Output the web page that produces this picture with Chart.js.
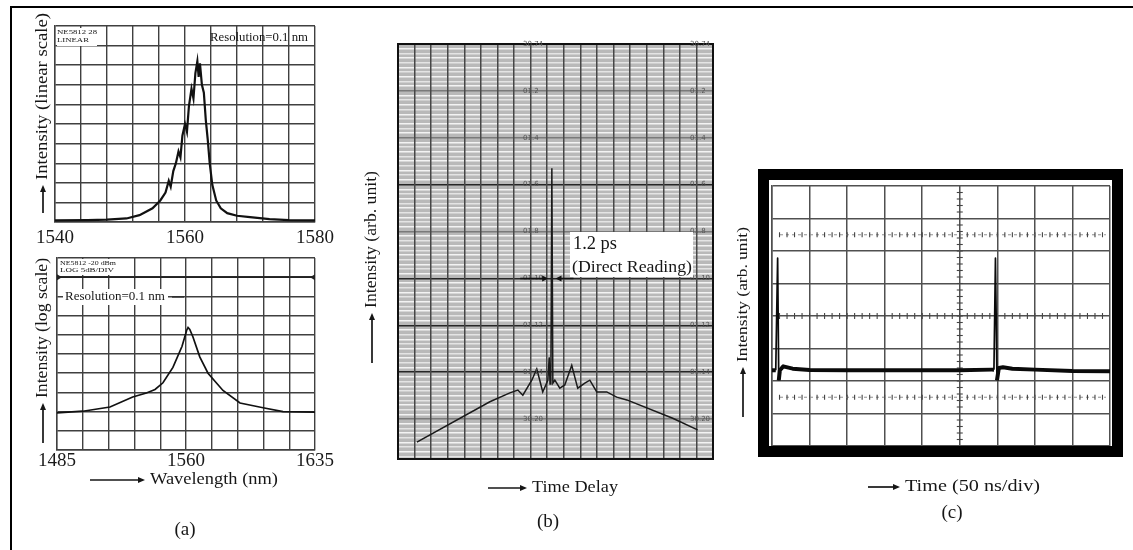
<!DOCTYPE html>
<html>
<head>
<meta charset="utf-8">
<script src="https://cdn.jsdelivr.net/npm/chart.js@4.4.0/dist/chart.umd.min.js"></script>
<style>
  html, body { margin: 0; padding: 0; background: #fff; }
  #fig { position: relative; width: 1133px; height: 550px; overflow: hidden; background: #fff; }
  #frame { position: absolute; left: 10px; top: 6px; width: 1140px; height: 560px;
           border-left: 2px solid #000; border-top: 2px solid #000; }
  canvas { position: absolute; }
</style>
</head>
<body>
<div id="fig">
  <div id="frame"></div>
  <canvas id="aTop" width="340" height="250" style="left:0;top:0"></canvas>
  <canvas id="aBot" width="340" height="300" style="left:0;top:250px"></canvas>
  <canvas id="bAc"  width="400" height="550" style="left:340px;top:0"></canvas>
  <canvas id="cScope" width="413" height="550" style="left:720px;top:0"></canvas>
</div>
<script>
// (a) upper: optical spectrum on a linear intensity scale (grid divisions)
const specLinWl = [1540, 1545, 1548, 1551, 1553, 1555, 1556.2, 1557, 1557.5, 1557.8, 1558.2, 1558.6,
  1559, 1559.3, 1559.6, 1560, 1560.3, 1560.6, 1561, 1561.3, 1561.6, 1561.9, 1562.1, 1562.3, 1562.6,
  1562.9, 1563.2, 1563.5, 1563.8, 1564.2, 1564.8, 1565.5, 1566.5, 1568, 1570, 1573, 1576, 1580];
const specLinI = [0.08, 0.1, 0.12, 0.18, 0.35, 0.7, 1.1, 1.5, 2.1, 1.8, 2.6, 3.0,
  3.6, 3.3, 4.4, 5.0, 4.6, 5.9, 6.8, 6.3, 7.6, 8.2, 7.4, 8.1, 7.0,
  6.6, 5.2, 4.2, 3.0, 1.9, 1.1, 0.7, 0.45, 0.32, 0.25, 0.15, 0.1, 0.08];
const linWlTicks = [1540, 1544, 1548, 1552, 1556, 1560, 1564, 1568, 1572, 1576, 1580];
const linWlLabels = [1540, 1560, 1580];
const linLevelTicks = [0, 1, 2, 3, 4, 5, 6, 7, 8, 9, 10];

// (a) lower: the same spectrum on a log scale (dBm, 5 dB/div)
const specLogWl = [1485, 1500, 1515.8, 1529, 1537, 1542, 1546.6, 1552.4, 1557.7, 1560.4, 1561.2,
  1562.2, 1564, 1568, 1572.8, 1581.5, 1591.4, 1604.8, 1616.4, 1635];
const specLogDbm = [-60.35, -59.9, -58.8, -56.2, -55.15, -54.25, -52.5, -48.5, -43, -38.8, -38.1,
  -38.6, -40.5, -45.75, -50, -54.5, -57.75, -59, -60, -60.15];
const logWlTicks = [1485, 1500, 1515, 1530, 1545, 1560, 1575, 1590, 1605, 1620, 1635];
const logWlLabels = [1485, 1560, 1635];
const logDbmTicks = [-70, -65, -60, -55, -50, -45, -40, -35, -30, -25, -20];
const refLevelDbm = -25;

// (b) autocorrelation trace (time-delay divisions, intensity divisions)
const acDelay = [1.14, 5.54, 6.75, 7.23, 7.53, 8.07, 8.37, 8.55, 8.73, 9.04, 9.12, 9.17, 9.22, 9.28,
  9.34, 9.46, 9.76, 10.06, 10.48, 10.66, 10.84, 11.27, 11.57, 11.99, 12.59, 13.19, 13.80, 16.57, 18.07];
const acLevel = [0.36, 1.22, 1.41, 1.47, 1.36, 1.68, 1.92, 1.68, 1.43, 1.68, 2.17, 1.60, 1.62, 6.20,
  1.62, 1.68, 1.51, 1.58, 2.00, 1.75, 1.51, 1.62, 1.68, 1.43, 1.43, 1.32, 1.26, 0.87, 0.62];
const acDelayTicks = [0, 1, 2, 3, 4, 5, 6, 7, 8, 9, 10, 11, 12, 13, 14, 15, 16, 17, 18, 19];
const acMajorLevels = [0.85, 1.85, 2.85, 3.85, 4.85, 5.85, 6.85, 7.85, 8.85];
const acStrongLevels = [1.85, 2.85, 3.85, 5.85];
const acReadouts = ['30.74', '01.2', '01.4', '01.6', '01.8', '01.10', '01.12', '01.14', '30.20'];
const acPulseCenter = 9.28;
const acHalfWidth = 0.22;
const acWidthLevel = 3.85;

// (c) oscilloscope pulse train (time divisions, vertical divisions)
const scopeTime = [0.0, 0.10, 0.15, 0.18, 0.21, 0.30, 0.55, 1.0, 2.0, 3.0, 4.0, 5.0, 5.85, 5.91,
  5.95, 5.99, 6.04, 6.15, 6.4, 7.0, 8.0, 9.0];
const scopeLevel = [2.33, 2.33, 5.78, 2.02, 2.33, 2.45, 2.38, 2.34, 2.33, 2.33, 2.33, 2.33, 2.35, 2.35,
  5.78, 2.02, 2.40, 2.42, 2.38, 2.35, 2.31, 2.30];
const scopeTimeTicks = [0, 1, 2, 3, 4, 5, 6, 7, 8, 9];
const scopeLevelTicks = [0, 1, 2, 3, 4, 5, 6, 7, 8];
const scopeCenter = { x: 5, y: 4 };
const scopeMarkerLevels = [1.5, 6.5];

const FONT = 'Liberation Serif';
const INK = '#161616';

function fitText(ctx, text, x, y, width, size, align) {
  ctx.save();
  ctx.font = size + 'px "' + FONT + '"';
  ctx.textBaseline = 'middle';
  ctx.textAlign = 'left';
  ctx.fillStyle = INK;
  const w = ctx.measureText(text).width;
  const s = width ? width / w : 1;
  const x0 = align === 'center' ? x - (w * s) / 2 : x;
  ctx.translate(x0, y);
  ctx.scale(s, 1);
  ctx.fillText(text, 0, 0);
  ctx.restore();
}

function arrowLabel(ctx, x, y, len, text, size, width, vertical) {
  ctx.save();
  ctx.translate(x, y);
  if (vertical) ctx.rotate(-Math.PI / 2);
  ctx.strokeStyle = INK;
  ctx.fillStyle = INK;
  ctx.lineWidth = 1.7;
  ctx.beginPath(); ctx.moveTo(0, 0); ctx.lineTo(len - 5, 0); ctx.stroke();
  ctx.beginPath(); ctx.moveTo(len, 0); ctx.lineTo(len - 7, -3); ctx.lineTo(len - 7, 3); ctx.closePath(); ctx.fill();
  fitText(ctx, text, len + 5, 0, width, size);
  ctx.restore();
}

function setTicks(list) { return s => { s.ticks = list.map(v => ({ value: v })); }; }

const gridA = { color: '#404040', lineWidth: 1.4, drawTicks: false };
const borderA = { color: '#404040', width: 1.4 };
const common = {
  responsive: false, animation: false, events: [],
  plugins: { legend: { display: false }, tooltip: { enabled: false } },
  elements: { point: { radius: 0 }, line: { tension: 0 } }
};

// ---------- (a) upper: linear scale ----------
new Chart(document.getElementById('aTop'), {
  type: 'line',
  data: { datasets: [{ data: specLinWl.map((w, i) => ({ x: w, y: specLinI[i] })),
    borderColor: '#111', borderWidth: 2.2 }] },
  options: Object.assign({}, common, {
    layout: { padding: { left: 55, right: 25, top: 26, bottom: 0 } },
    scales: {
      x: { type: 'linear', min: 1540, max: 1580, afterBuildTicks: setTicks(linWlTicks),
        afterFit: s => { s.height = 28; }, grid: gridA, border: borderA,
        ticks: { autoSkip: false, maxRotation: 0, padding: 5, color: '#1a1a1a',
          font: { family: FONT, size: 19 },
          callback: v => linWlLabels.includes(v) ? String(v) : '' } },
      y: { min: 0, max: 10, afterBuildTicks: setTicks(linLevelTicks),
        afterFit: s => { s.width = 0; }, grid: gridA, border: borderA, ticks: { display: false } }
    }
  }),
  plugins: [{
    id: 'aTopText',
    afterDraw(chart) {
      const ctx = chart.ctx, a = chart.chartArea;
      ctx.save();
      ctx.fillStyle = '#fff';
      ctx.fillRect(a.left + 2, a.top + 2, 40, 18);
      ctx.restore();
      fitText(ctx, 'NE5812 28', a.left + 2, a.top + 6, 40, 7);
      fitText(ctx, 'LINEAR', a.left + 2, a.top + 14, 32, 7);
      fitText(ctx, 'Resolution=0.1 nm', 210, 38, 98, 12);
      arrowLabel(ctx, 43, 213, 28, 'Intensity (linear scale)', 16, 167, true);
    }
  }]
});

// ---------- (a) lower: log scale ----------
new Chart(document.getElementById('aBot'), {
  type: 'line',
  data: { datasets: [{ data: specLogWl.map((w, i) => ({ x: w, y: specLogDbm[i] })),
    borderColor: '#111', borderWidth: 1.7 }] },
  options: Object.assign({}, common, {
    layout: { padding: { left: 57, right: 25, top: 8, bottom: 0 } },
    scales: {
      x: { type: 'linear', min: 1485, max: 1635, afterBuildTicks: setTicks(logWlTicks),
        afterFit: s => { s.height = 100; }, grid: gridA, border: borderA,
        ticks: { autoSkip: false, maxRotation: 0, padding: 0, color: '#1a1a1a',
          font: { family: FONT, size: 19 },
          callback: v => logWlLabels.includes(v) ? String(v) : '' } },
      y: { min: -70, max: -20, afterBuildTicks: setTicks(logDbmTicks),
        afterFit: s => { s.width = 0; }, grid: gridA, border: borderA, ticks: { display: false } }
    }
  }),
  plugins: [{
    id: 'aBotText',
    afterDraw(chart) {
      const ctx = chart.ctx, a = chart.chartArea;
      const ry = chart.scales.y.getPixelForValue(refLevelDbm);
      ctx.save();
      ctx.strokeStyle = '#222'; ctx.lineWidth = 1.8;
      ctx.beginPath(); ctx.moveTo(a.left, ry); ctx.lineTo(a.right, ry); ctx.stroke();
      ctx.fillStyle = '#222';
      ctx.beginPath(); ctx.moveTo(a.left + 5, ry); ctx.lineTo(a.left, ry - 3); ctx.lineTo(a.left, ry + 3); ctx.fill();
      ctx.beginPath(); ctx.moveTo(a.right - 5, ry); ctx.lineTo(a.right, ry - 3); ctx.lineTo(a.right, ry + 3); ctx.fill();
      ctx.fillStyle = '#fff';
      ctx.fillRect(a.left + 2, a.top + 1, 58, 16);
      ctx.fillRect(63, 39, 105, 16);
      ctx.strokeStyle = '#222'; ctx.lineWidth = 1.2;
      ctx.beginPath(); ctx.moveTo(172, 47); ctx.lineTo(184, 47); ctx.stroke();
      ctx.restore();
      fitText(ctx, 'NE5812 -20 dBm', a.left + 3, a.top + 5, 56, 7);
      fitText(ctx, 'LOG 5dB/DIV', a.left + 3, a.top + 12, 54, 7);
      fitText(ctx, 'Resolution=0.1 nm', 65, 47, 100, 13);
      arrowLabel(ctx, 43, 193, 40, 'Intensity (log scale)', 16, 140, true);
      arrowLabel(ctx, 90, 230, 55, 'Wavelength (nm)', 17, 128, false);
      fitText(ctx, '(a)', 185, 280, 0, 19, 'center');
    }
  }]
});

// ---------- (b) autocorrelation ----------
const acMinorTicks = [];
for (let i = 0; i <= 88; i++) acMinorTicks.push(+(0.05 + 0.1 * i).toFixed(2));
const near = (v, list) => list.some(m => Math.abs(m - v) < 1e-6);

new Chart(document.getElementById('bAc'), {
  type: 'line',
  data: { datasets: [{ data: acDelay.map((d, i) => ({ x: d, y: acLevel[i] })),
    borderColor: '#1a1a1a', borderWidth: 1.5 }] },
  options: Object.assign({}, common, {
    layout: { padding: { left: 58, right: 27, top: 44, bottom: 0 } },
    scales: {
      x: { type: 'linear', min: 0, max: 19, afterBuildTicks: setTicks(acDelayTicks),
        afterFit: s => { s.height = 91; },
        grid: { z: -1, color: '#474747', lineWidth: 1.5, drawTicks: false },
        border: { display: false }, ticks: { display: false } },
      y: { min: 0, max: 8.85, afterBuildTicks: setTicks(acMinorTicks),
        afterFit: s => { s.width = 0; },
        grid: { z: -2, drawTicks: false,
          color: c => near(c.tick.value, acStrongLevels) ? '#262626'
            : near(c.tick.value, acMajorLevels) ? '#7a7a7a' : (c.index % 2 ? '#f3f3f3' : '#e4e4e4'),
          lineWidth: c => near(c.tick.value, acMajorLevels) ? 1.5 : 1.6 },
        border: { display: false }, ticks: { display: false } }
    }
  }),
  plugins: [{
    id: 'bBack',
    beforeDraw(chart) {
      const ctx = chart.ctx, a = chart.chartArea;
      ctx.save(); ctx.fillStyle = '#b9b9b9';
      ctx.fillRect(a.left, a.top, a.right - a.left, a.bottom - a.top);
      ctx.restore();
    },
    afterDraw(chart) {
      const ctx = chart.ctx, a = chart.chartArea, xs = chart.scales.x, ys = chart.scales.y;
      ctx.save();
      ctx.strokeStyle = '#111'; ctx.lineWidth = 2;
      ctx.strokeRect(a.left, a.top, a.right - a.left, a.bottom - a.top);
      // instrument readouts along the major lines
      ctx.font = '7px "DejaVu Sans"'; ctx.fillStyle = '#555'; ctx.textBaseline = 'middle';
      acMajorLevels.forEach((lv, i) => {
        const py = ys.getPixelForValue(lv);
        const t = acReadouts[acReadouts.length - 1 - i];
        ctx.fillText(t, 183, py);
        ctx.fillText(t, 350, py);
      });
      // pulse-width markers
      const wy = ys.getPixelForValue(acWidthLevel);
      const xl = xs.getPixelForValue(acPulseCenter - acHalfWidth);
      const xr = xs.getPixelForValue(acPulseCenter + acHalfWidth);
      ctx.strokeStyle = '#111'; ctx.fillStyle = '#111'; ctx.lineWidth = 1.5;
      ctx.beginPath(); ctx.moveTo(xl - 28, wy); ctx.lineTo(xl - 4, wy); ctx.stroke();
      ctx.beginPath(); ctx.moveTo(xl, wy); ctx.lineTo(xl - 6, wy - 3); ctx.lineTo(xl - 6, wy + 3); ctx.fill();
      ctx.beginPath(); ctx.moveTo(xr + 18, wy); ctx.lineTo(xr + 4, wy); ctx.stroke();
      ctx.beginPath(); ctx.moveTo(xr, wy); ctx.lineTo(xr + 6, wy - 3); ctx.lineTo(xr + 6, wy + 3); ctx.fill();
      // label box
      ctx.fillStyle = '#fff';
      ctx.fillRect(230, 232, 123, 45);
      ctx.restore();
      fitText(ctx, '1.2 ps', 233, 244, 44, 19);
      fitText(ctx, '(Direct Reading)', 232, 268, 120, 17);
      arrowLabel(ctx, 32, 363, 50, 'Intensity (arb. unit)', 16, 137, true);
      arrowLabel(ctx, 148, 488, 39, 'Time Delay', 17, 86, false);
      fitText(ctx, '(b)', 208, 522, 0, 19, 'center');
    }
  }]
});

// ---------- (c) oscilloscope ----------
new Chart(document.getElementById('cScope'), {
  type: 'line',
  data: { datasets: [{ data: scopeTime.map((t, i) => ({ x: t, y: scopeLevel[i] })),
    borderColor: '#0a0a0a', borderWidth: 4, borderJoinStyle: 'round',
    segment: { borderWidth: c => Math.abs(c.p1.parsed.y - c.p0.parsed.y) > 1 ? 1.7 : 4 } }] },
  options: Object.assign({}, common, {
    layout: { padding: { left: 52, right: 23, top: 186, bottom: 0 } },
    scales: {
      x: { type: 'linear', min: 0, max: 9, afterBuildTicks: setTicks(scopeTimeTicks),
        afterFit: s => { s.height = 104; },
        grid: { color: '#505050', lineWidth: 1.5, drawTicks: false },
        border: { color: '#505050', width: 1.5 }, ticks: { display: false } },
      y: { min: 0, max: 8, afterBuildTicks: setTicks(scopeLevelTicks),
        afterFit: s => { s.width = 0; },
        grid: { color: '#505050', lineWidth: 1.5, drawTicks: false },
        border: { color: '#505050', width: 1.5 }, ticks: { display: false } }
    }
  }),
  plugins: [{
    id: 'cDecor',
    beforeDatasetsDraw(chart) {
      const ctx = chart.ctx, xs = chart.scales.x, ys = chart.scales.y, a = chart.chartArea;
      const cx = xs.getPixelForValue(scopeCenter.x), cy = ys.getPixelForValue(scopeCenter.y);
      ctx.save();
      ctx.strokeStyle = '#444'; ctx.lineWidth = 1.1;
      for (let v = 0.2; v < 8; v += 0.2) {
        const py = ys.getPixelForValue(v);
        ctx.beginPath(); ctx.moveTo(cx - 3, py); ctx.lineTo(cx + 3, py); ctx.stroke();
      }
      for (let v = 0.2; v < 9; v += 0.2) {
        const px = xs.getPixelForValue(v);
        ctx.beginPath(); ctx.moveTo(px, cy - 3); ctx.lineTo(px, cy + 3); ctx.stroke();
      }
      scopeMarkerLevels.forEach(lv => {
        const py = ys.getPixelForValue(lv);
        ctx.save();
        ctx.strokeStyle = '#999'; ctx.setLineDash([3, 3]);
        ctx.beginPath(); ctx.moveTo(a.left + 8, py); ctx.lineTo(a.right - 4, py); ctx.stroke();
        ctx.restore();
        for (let v = 0.2; v < 9; v += 0.2) {
          const px = xs.getPixelForValue(v);
          ctx.beginPath(); ctx.moveTo(px, py - 2.5); ctx.lineTo(px, py + 2.5); ctx.stroke();
        }
      });
      ctx.restore();
    },
    afterDraw(chart) {
      const ctx = chart.ctx, a = chart.chartArea;
      ctx.save();
      ctx.strokeStyle = '#000'; ctx.lineWidth = 11;
      ctx.strokeRect(a.left - 8.5, a.top - 11.5, a.right - a.left + 16, a.bottom - a.top + 17);
      ctx.restore();
      arrowLabel(ctx, 23, 417, 50, 'Intensity (arb. unit)', 15, 135, true);
      arrowLabel(ctx, 148, 487, 32, 'Time (50 ns/div)', 17, 135, false);
      fitText(ctx, '(c)', 232, 513, 0, 19, 'center');
    }
  }]
});
</script>
</body>
</html>
